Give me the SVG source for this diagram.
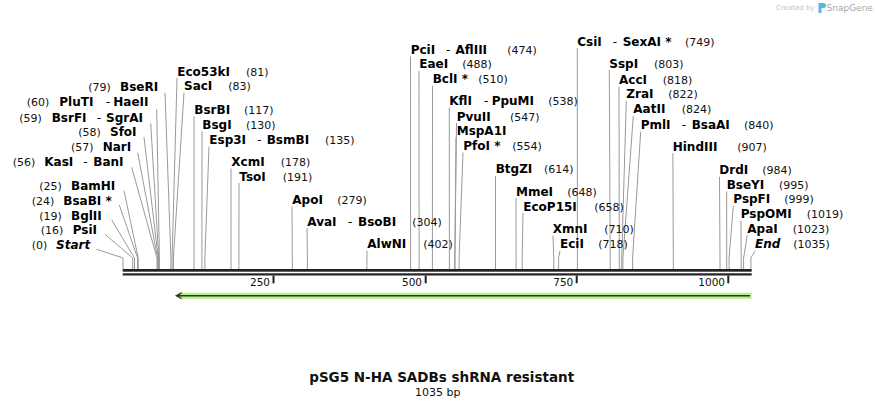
<svg xmlns="http://www.w3.org/2000/svg" width="875" height="408" viewBox="0 0 875 408">
<style>
.n{font-family:"DejaVu Sans",Verdana,sans-serif;font-weight:bold;font-size:12px;fill:#000}
.i{font-style:italic}
.p{font-family:"DejaVu Sans",Verdana,sans-serif;font-size:11px;fill:#111}
.d{font-family:"DejaVu Sans",Verdana,sans-serif;font-size:12px;fill:#000}
.t{font-family:"DejaVu Sans",Verdana,sans-serif;font-size:10.5px;fill:#111;text-anchor:end}
.c polyline{fill:none;stroke:#999;stroke-width:1}
</style>
<rect width="875" height="408" fill="#fff"/>
<g id="watermark">
<text x="776" y="10" style="font-family:'DejaVu Sans',sans-serif;font-size:7px;fill:#c4c4c4">Created by</text>
<path d="M818.5,3 h5 a2.5,2.5 0 0 1 0,5 h-2 v5 h-3 z" fill="#5ab4e6"/>
<text x="826.5" y="11" style="font-family:'DejaVu Sans',sans-serif;font-size:9px;fill:#a8a8a8">SnapGene</text>
</g>
<g class="c" id="connectors">
<polyline points="165,92.7 170.9,258 170.9,269"/>
<polyline points="156.7,109.3 159.4,258 159.4,269"/>
<polyline points="150.7,123.3 158.8,258 158.8,269"/>
<polyline points="144,137.3 158.2,258 158.2,269"/>
<polyline points="137.7,152.7 157.6,258 157.6,269"/>
<polyline points="131.7,167.3 157,258 157,269"/>
<polyline points="124,190.7 138.2,258 138.2,269"/>
<polyline points="119.3,205 137.6,258 137.6,269"/>
<polyline points="111.7,220 134.5,258 134.5,269"/>
<polyline points="105,234.3 132.7,258 132.7,269"/>
<polyline points="96.7,249.3 123,258 123,269"/>
<polyline points="177,78 172.1,258 172.1,269"/>
<polyline points="184,92.5 173.4,258 173.4,269"/>
<polyline points="194,116.5 194,258 194,269"/>
<polyline points="202,131.5 201.9,258 201.9,269"/>
<polyline points="209,146.5 204.9,258 204.9,269"/>
<polyline points="231,168.5 231,258 231,269"/>
<polyline points="239,183 238.9,258 238.9,269"/>
<polyline points="292,206.5 292.3,258 292.3,269"/>
<polyline points="307,228 307.4,258 307.4,269"/>
<polyline points="367,250.8 366.9,258 366.9,269"/>
<polyline points="410.5,56.5 410.6,258 410.6,269"/>
<polyline points="419,70.8 419.1,258 419.1,269"/>
<polyline points="432.5,85.8 432.4,258 432.4,269"/>
<polyline points="449.3,107.5 449.4,258 449.4,269"/>
<polyline points="456.5,123 454.9,258 454.9,269"/>
<polyline points="456,137.5 454.9,258 454.9,269"/>
<polyline points="463,152.5 459.1,258 459.1,269"/>
<polyline points="495.5,175.8 495.5,258 495.5,269"/>
<polyline points="516,198 516.1,258 516.1,269"/>
<polyline points="523,213 522.2,258 522.2,269"/>
<polyline points="553,235.8 553.8,258 553.8,269"/>
<polyline points="560,250.8 558.6,258 558.6,269"/>
<polyline points="577.3,48 577.4,258 577.4,269"/>
<polyline points="609.3,70 610.2,258 610.2,269"/>
<polyline points="619,86.5 619.3,258 619.3,269"/>
<polyline points="626.3,100.8 621.7,258 621.7,269"/>
<polyline points="633.3,115.8 622.9,258 622.9,269"/>
<polyline points="640.7,131.5 632.6,258 632.6,269"/>
<polyline points="672.9,153.2 673.3,258 673.3,269"/>
<polyline points="719.5,176.8 720,258 720,269"/>
<polyline points="726.7,191.5 726.7,258 726.7,269"/>
<polyline points="733.3,205.8 729.1,258 729.1,269"/>
<polyline points="740.9,220.8 741.2,258 741.2,269"/>
<polyline points="747.3,235.2 743.6,258 743.6,269"/>
<polyline points="755,250.8 750.9,258 750.9,269"/>
</g>
<g id="backbone">
<rect x="122.7" y="269" width="629" height="2.7" fill="#222"/>
<rect x="122.7" y="273.3" width="629" height="2.2" fill="#222"/>
<rect x="272.5" y="275.5" width="2" height="7.8" fill="#222"/>
<rect x="424.7" y="275.5" width="2" height="7.8" fill="#222"/>
<rect x="575.7" y="275.5" width="2" height="7.8" fill="#222"/>
<rect x="727.3" y="275.5" width="2" height="7.8" fill="#222"/>
<text class="t" x="270" y="286">250</text>
<text class="t" x="422" y="286">500</text>
<text class="t" x="573.3" y="286">750</text>
<text class="t" x="725" y="286">1000</text>
</g>
<g id="feature-arrow">
<polygon points="175,295.7 182.5,291.3 182.5,292.7 751.7,292.7 751.7,298.7 182.5,298.7 182.5,300.1" fill="#b5ef8a"/>
<line x1="177" y1="295.7" x2="750" y2="295.7" stroke="#2e3528" stroke-width="1.6"/>
<polyline points="181.5,292.9 176.5,295.7 181.5,298.5" fill="none" stroke="#2e3528" stroke-width="1.4"/>
</g>
<g id="n-BseRI"><text class="p" x="88.3" y="90.5">(79)</text><text class="n" x="120" y="90.5">BseRI</text></g>
<g id="n-PluTI-HaeII"><text class="p" x="26.7" y="106">(60)</text><text class="n" x="59.3" y="106">PluTI</text><text class="d" x="106" y="106">-</text><text class="n" x="113.3" y="106">HaeII</text></g>
<g id="n-BsrFI-SgrAI"><text class="p" x="19.3" y="121.5">(59)</text><text class="n" x="51.7" y="121.5">BsrFI</text><text class="d" x="96.7" y="121.5">-</text><text class="n" x="106" y="121.5">SgrAI</text></g>
<g id="n-SfoI"><text class="p" x="78.3" y="136">(58)</text><text class="n" x="110" y="136">SfoI</text></g>
<g id="n-NarI"><text class="p" x="71" y="151">(57)</text><text class="n" x="102.7" y="151">NarI</text></g>
<g id="n-KasI-BanI"><text class="p" x="12.7" y="166">(56)</text><text class="n" x="44.3" y="166">KasI</text><text class="d" x="83.3" y="166">-</text><text class="n" x="93.3" y="166">BanI</text></g>
<g id="n-BamHI"><text class="p" x="39.3" y="189.5">(25)</text><text class="n" x="71" y="189.5">BamHI</text></g>
<g id="n-BsaBI"><text class="p" x="31.7" y="204.5">(24)</text><text class="n" x="63.3" y="204.5">BsaBI *</text></g>
<g id="n-BglII"><text class="p" x="39.3" y="219.5">(19)</text><text class="n" x="71" y="219.5">BglII</text></g>
<g id="n-PsiI"><text class="p" x="40.7" y="234">(16)</text><text class="n" x="72.7" y="234">PsiI</text></g>
<g id="n-Start"><text class="p" x="31.7" y="249">(0)</text><text class="n i" x="56" y="249">Start</text></g>
<g id="n-Eco53kI"><text class="n" x="177.3" y="75.7">Eco53kI</text><text class="p" x="246" y="75.7">(81)</text></g>
<g id="n-SacI"><text class="n" x="184" y="90">SacI</text><text class="p" x="228.3" y="90">(83)</text></g>
<g id="n-BsrBI"><text class="n" x="194.3" y="114">BsrBI</text><text class="p" x="244" y="114">(117)</text></g>
<g id="n-BsgI"><text class="n" x="202.3" y="129">BsgI</text><text class="p" x="246" y="129">(130)</text></g>
<g id="n-Esp3I-BsmBI"><text class="n" x="209.3" y="144">Esp3I</text><text class="d" x="257.3" y="144">-</text><text class="n" x="266.7" y="144">BsmBI</text><text class="p" x="325" y="144">(135)</text></g>
<g id="n-XcmI"><text class="n" x="231.3" y="166">XcmI</text><text class="p" x="280.7" y="166">(178)</text></g>
<g id="n-TsoI"><text class="n" x="239.3" y="180.7">TsoI</text><text class="p" x="282.7" y="180.7">(191)</text></g>
<g id="n-ApoI"><text class="n" x="292.3" y="204">ApoI</text><text class="p" x="337.3" y="204">(279)</text></g>
<g id="n-AvaI-BsoBI"><text class="n" x="307.3" y="225.7">AvaI</text><text class="d" x="348" y="225.7">-</text><text class="n" x="358" y="225.7">BsoBI</text><text class="p" x="412.3" y="225.7">(304)</text></g>
<g id="n-AlwNI"><text class="n" x="367.3" y="248.3">AlwNI</text><text class="p" x="423.3" y="248.3">(402)</text></g>
<g id="n-PciI-AflIII"><text class="n" x="410.7" y="54">PciI</text><text class="d" x="446" y="54">-</text><text class="n" x="455.5" y="54">AflIII</text><text class="p" x="507.3" y="54">(474)</text></g>
<g id="n-EaeI"><text class="n" x="419.3" y="68.3">EaeI</text><text class="p" x="462.3" y="68.3">(488)</text></g>
<g id="n-BclI"><text class="n" x="432.7" y="83.3">BclI *</text><text class="p" x="478.3" y="83.3">(510)</text></g>
<g id="n-KflI-PpuMI"><text class="n" x="449.3" y="105">KflI</text><text class="d" x="484" y="105">-</text><text class="n" x="491.7" y="105">PpuMI</text><text class="p" x="548.3" y="105">(538)</text></g>
<g id="n-PvuII"><text class="n" x="456.7" y="120.7">PvuII</text><text class="p" x="510" y="120.7">(547)</text></g>
<g id="n-MspA1I"><text class="n" x="456.7" y="135">MspA1I</text></g>
<g id="n-PfoI"><text class="n" x="463.3" y="150">PfoI *</text><text class="p" x="512.3" y="150">(554)</text></g>
<g id="n-BtgZI"><text class="n" x="495.7" y="173.3">BtgZI</text><text class="p" x="544" y="173.3">(614)</text></g>
<g id="n-MmeI"><text class="n" x="516" y="195.7">MmeI</text><text class="p" x="567.3" y="195.7">(648)</text></g>
<g id="n-EcoP15I"><text class="n" x="523.3" y="210.7">EcoP15I</text><text class="p" x="594.3" y="210.7">(658)</text></g>
<g id="n-XmnI"><text class="n" x="552.7" y="233.3">XmnI</text><text class="p" x="604.3" y="233.3">(710)</text></g>
<g id="n-EciI"><text class="n" x="560" y="248.3">EciI</text><text class="p" x="598.3" y="248.3">(718)</text></g>
<g id="n-CsiI-SexAI"><text class="n" x="577.3" y="45.5">CsiI</text><text class="d" x="612.7" y="45.5">-</text><text class="n" x="622.7" y="45.5">SexAI *</text><text class="p" x="685" y="45.5">(749)</text></g>
<g id="n-SspI"><text class="n" x="609.3" y="67.7">SspI</text><text class="p" x="654" y="67.7">(803)</text></g>
<g id="n-AccI"><text class="n" x="619" y="84">AccI</text><text class="p" x="662.7" y="84">(818)</text></g>
<g id="n-ZraI"><text class="n" x="626.3" y="98.3">ZraI</text><text class="p" x="668.3" y="98.3">(822)</text></g>
<g id="n-AatII"><text class="n" x="633.3" y="113.3">AatII</text><text class="p" x="681.7" y="113.3">(824)</text></g>
<g id="n-PmlI-BsaAI"><text class="n" x="640.7" y="129">PmlI</text><text class="d" x="681.7" y="129">-</text><text class="n" x="691.7" y="129">BsaAI</text><text class="p" x="744" y="129">(840)</text></g>
<g id="n-HindIII"><text class="n" x="672.7" y="150.7">HindIII</text><text class="p" x="737.3" y="150.7">(907)</text></g>
<g id="n-DrdI"><text class="n" x="719.3" y="174.3">DrdI</text><text class="p" x="762.3" y="174.3">(984)</text></g>
<g id="n-BseYI"><text class="n" x="726.7" y="189">BseYI</text><text class="p" x="779" y="189">(995)</text></g>
<g id="n-PspFI"><text class="n" x="733.3" y="203.3">PspFI</text><text class="p" x="784.3" y="203.3">(999)</text></g>
<g id="n-PspOMI"><text class="n" x="740.7" y="218.3">PspOMI</text><text class="p" x="806.7" y="218.3">(1019)</text></g>
<g id="n-ApaI"><text class="n" x="747.3" y="232.7">ApaI</text><text class="p" x="792.7" y="232.7">(1023)</text></g>
<g id="n-End"><text class="n i" x="755" y="248.3">End</text><text class="p" x="793.3" y="248.3">(1035)</text></g>
<g id="title">
<text x="441.7" y="382.3" text-anchor="middle" style="font-family:'DejaVu Sans',Verdana,sans-serif;font-weight:bold;font-size:13.5px;fill:#111">pSG5 N-HA SADBs shRNA resistant</text>
<text x="437.7" y="396" text-anchor="middle" style="font-family:'DejaVu Sans',Verdana,sans-serif;font-size:11px;fill:#111">1035 bp</text>
</g>
</svg>
